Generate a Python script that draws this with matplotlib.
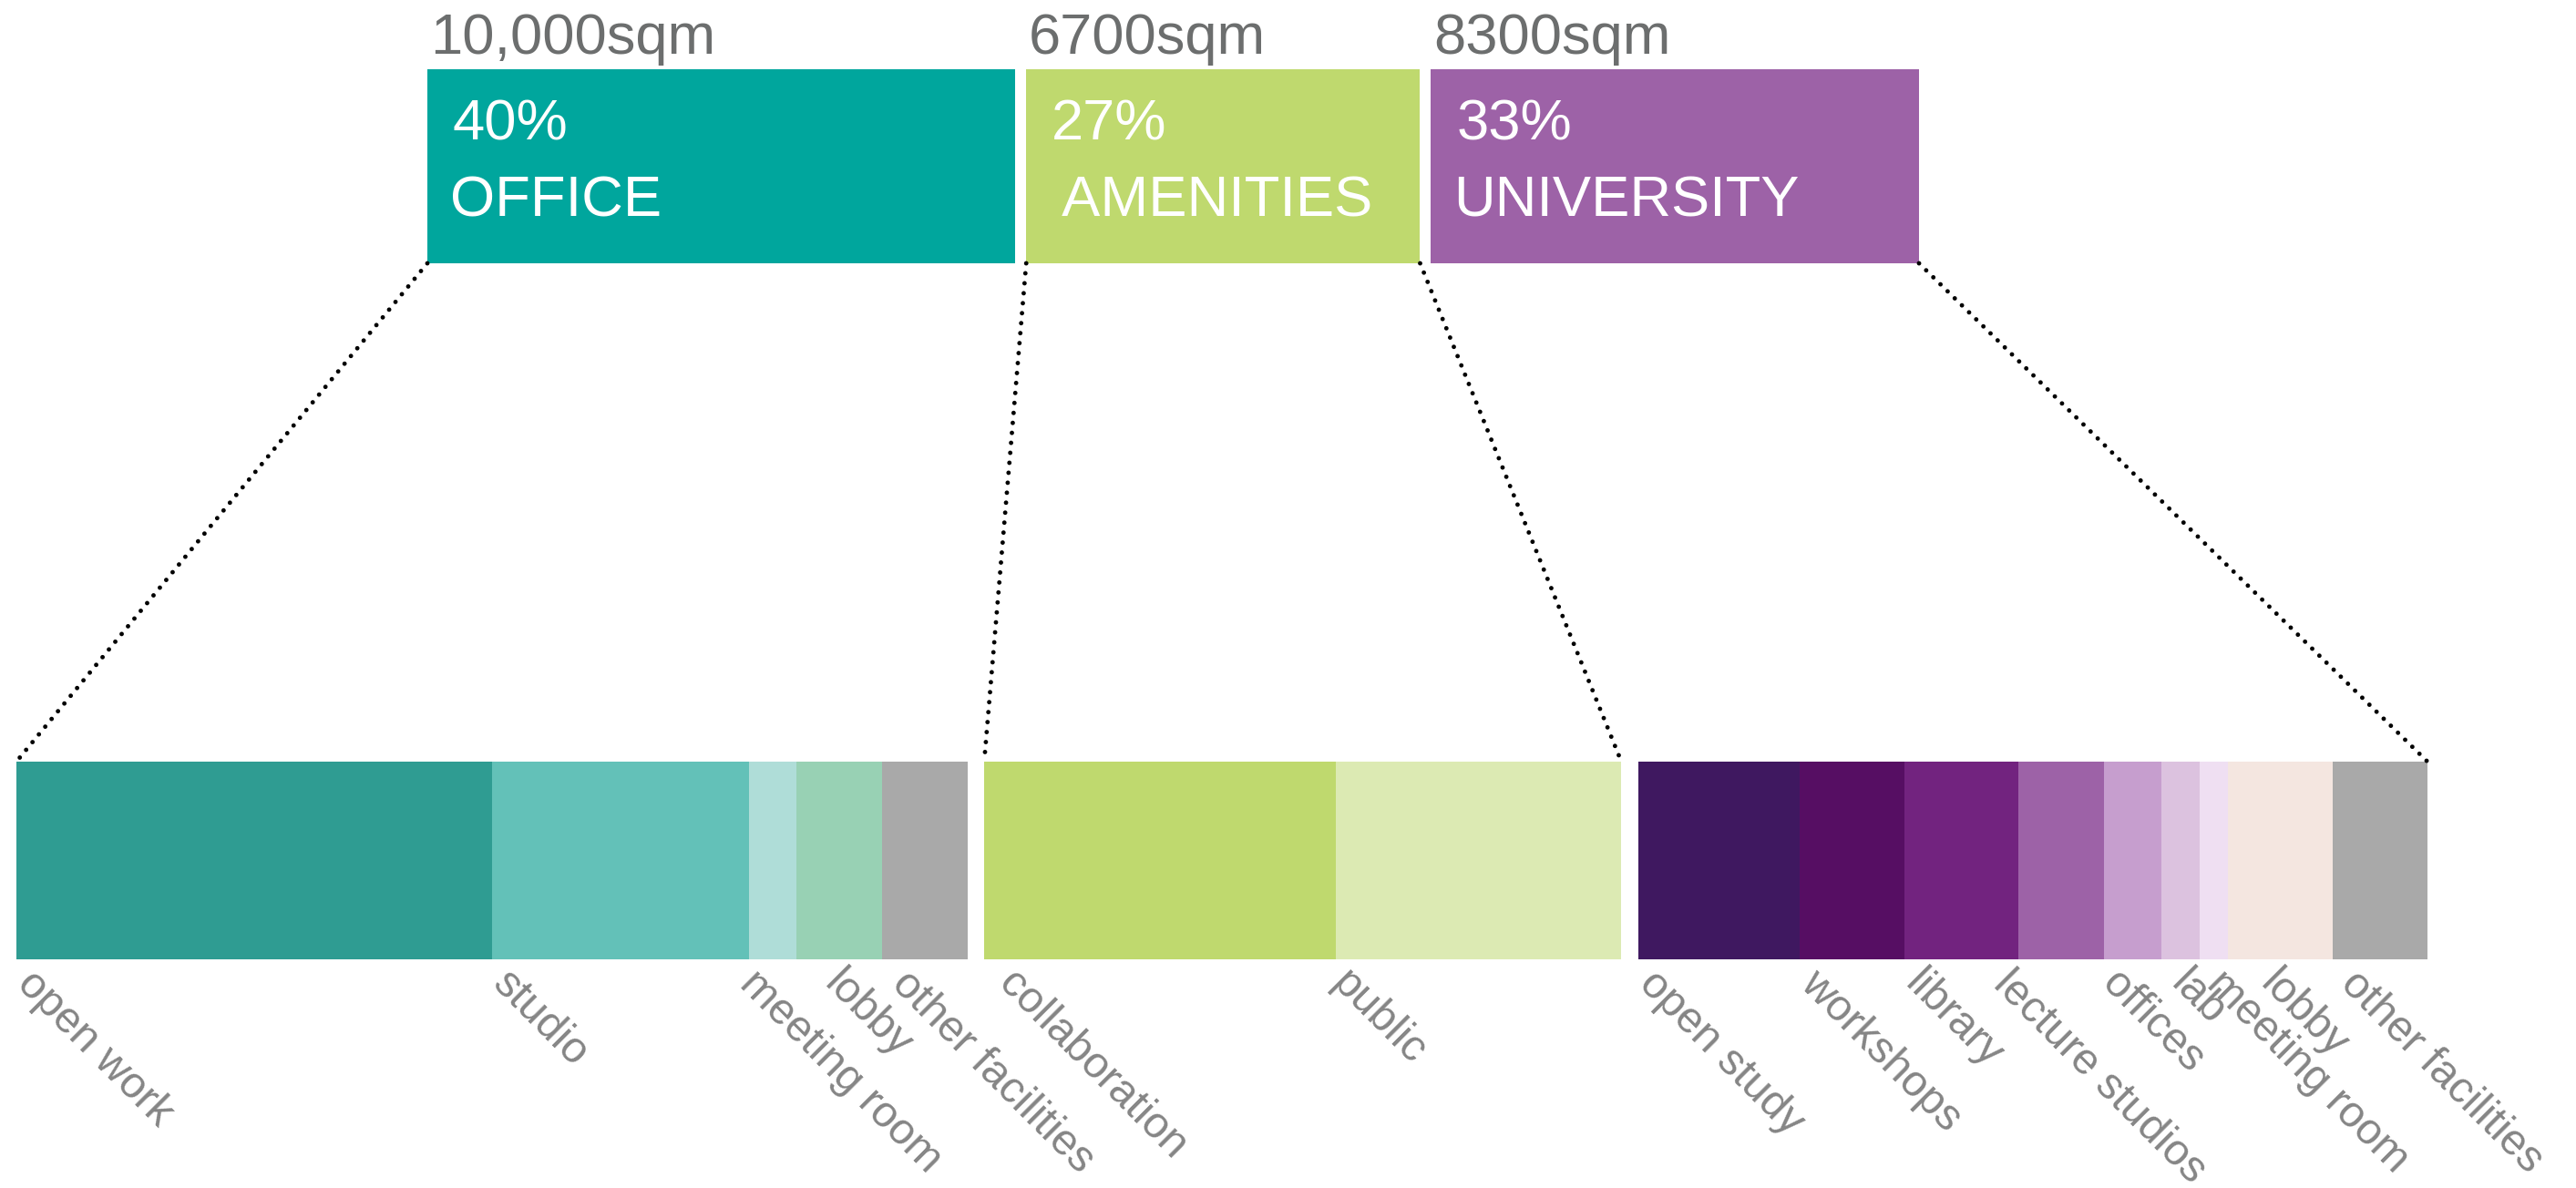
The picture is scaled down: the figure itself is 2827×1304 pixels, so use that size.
import matplotlib
matplotlib.use("Agg")
import matplotlib.pyplot as plt
import matplotlib.transforms as mtransforms
from matplotlib.patches import ConnectionPatch

plt.rcParams['font.family'] = ['Liberation Sans', 'DejaVu Sans']

# ---------------- data ----------------
groups = ["OFFICE", "AMENITIES", "UNIVERSITY"]
group_area = [10000, 6700, 8300]
area_labels = ["10,000sqm", "6700sqm", "8300sqm"]
pct_labels = ["40%", "27%", "33%"]
name_labels = ["OFFICE", " AMENITIES", "UNIVERSITY"]
group_colors = ["#00A69D", "#BFD96E", "#9D62A7"]

office_parts = ["open work", "studio", "meeting room", "lobby", "other facilities"]
office_area = [5000, 2700, 500, 900, 900]
office_colors = ["#2F9C92", "#63C1B8", "#AFDDD8", "#98D1B4", "#A9A9A9"]

amen_parts = ["collaboration", "public"]
amen_area = [3700, 3000]
amen_colors = ["#BFD96E", "#DCEAB3"]

uni_parts = ["open study", "workshops", "library", "lecture studios", "offices",
             "lab", "meeting room", "lobby", "other facilities"]
uni_area = [1700, 1100, 1200, 900, 600, 400, 300, 1100, 1000]
uni_colors = ["#3F1860", "#560E63", "#72237F", "#9D62A7", "#C69ECE",
              "#DCC2DF", "#EFDFF2", "#F4E6E0", "#A9A9A9"]

# ---------------- layout / style ----------------
W, H = 2827, 1304
DPI = 100
# horizontal label nudges in pixels (layout only)
label_nudge = [
    [0, 0, -11, 30, 10],
    [15, -5],
    [0, 0, 0, -28, -3, 10, 7, 35, 8],
]

fig = plt.figure(figsize=(W / DPI, H / DPI), dpi=DPI)
fig.patch.set_facecolor("white")


def rect(l, t, r, b):
    return [l / W, 1 - b / H, (r - l) / W, (b - t) / H]


ax_top = fig.add_axes(rect(469, 76, 2106, 289))
ax_bot = fig.add_axes(rect(18, 836, 2664, 1053))

gap_top = 186
gap_bot = 177
total = sum(group_area)


def off(ax, dx, dy):
    return mtransforms.offset_copy(ax.transData, fig=fig, x=dx, y=dy, units="dots")


# top bars
top_lefts = []
x = 0
for a, c in zip(group_area, group_colors):
    ax_top.barh(0.5, a, left=x, height=1.0, color=c, linewidth=0)
    top_lefts.append(x)
    x += a + gap_top
ax_top.set_xlim(0, total + 2 * gap_top)
ax_top.set_ylim(0, 1)
ax_top.axis("off")

top_fs = 45.5
for i in range(3):
    ax_top.text(top_lefts[i], 1, area_labels[i], transform=off(ax_top, 3, 17),
                ha="left", va="baseline", fontsize=top_fs, color="#6C6E6E")
    ax_top.text(top_lefts[i], 1, pct_labels[i], transform=off(ax_top, 28, -77),
                ha="left", va="baseline", fontsize=top_fs, color="white")
    ax_top.text(top_lefts[i], 1, name_labels[i], transform=off(ax_top, 25, -162),
                ha="left", va="baseline", fontsize=top_fs, color="white")

# bottom bars
sub_groups = [(office_parts, office_area, office_colors),
              (amen_parts, amen_area, amen_colors),
              (uni_parts, uni_area, uni_colors)]
bot_lefts = []
x = 0
label_fs = 34.5
for g, (parts, areas, cols) in enumerate(sub_groups):
    bot_lefts.append(x)
    for k, (p, a, c) in enumerate(zip(parts, areas, cols)):
        ax_bot.barh(0.5, a, left=x, height=1.0, color=c, linewidth=0)
        ax_bot.text(x, 0, p, transform=off(ax_bot, -8 + label_nudge[g][k], -4),
                    rotation=-45, ha="left", va="top", fontsize=label_fs,
                    color="#858585")
        x += a
    x += gap_bot
ax_bot.set_xlim(0, total + 2 * gap_bot)
ax_bot.set_ylim(0, 1)
ax_bot.axis("off")

# dotted connectors
conns = [
    (top_lefts[0], bot_lefts[0]),
    (top_lefts[1], bot_lefts[1]),
    (top_lefts[1] + group_area[1], bot_lefts[1] + group_area[1]),
    (top_lefts[2] + group_area[2], bot_lefts[2] + group_area[2]),
]
for xt, xb in conns:
    con = ConnectionPatch(xyA=(xt, 0), coordsA=ax_top.transData,
                          xyB=(xb, 1), coordsB=ax_bot.transData,
                          color="black", linewidth=3.5,
                          linestyle=(0, (0.01, 2.25)), capstyle="round")
    fig.add_artist(con)

fig.savefig("out.png", dpi=DPI, facecolor="white")
